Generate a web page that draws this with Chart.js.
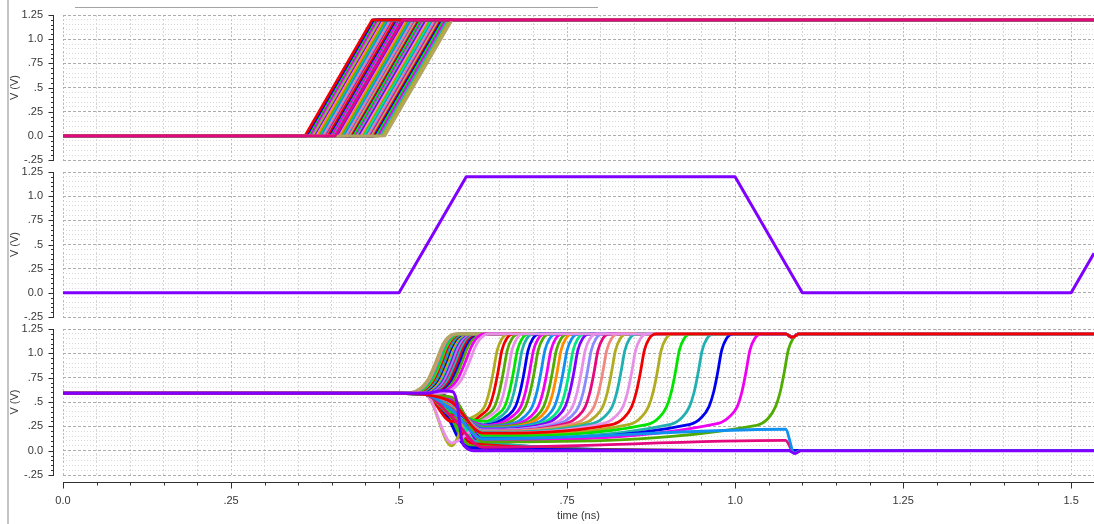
<!DOCTYPE html>
<html>
<head>
<meta charset="utf-8">
<script src="https://cdn.jsdelivr.net/npm/chart.js@4.4.1/dist/chart.umd.min.js"></script>
<style>
  body { margin: 0; background: #fff; }
  #page { position: relative; width: 1094px; height: 524px; overflow: hidden; background: #fff; }
  canvas { position: absolute; left: 0; }
  .frameL { position: absolute; left: 7px; top: 0; width: 2px; height: 524px; background: #c4c4c4; }
  .frameT { position: absolute; left: 75px; top: 7px; width: 523px; height: 1px; background: #a4a4a4; }
</style>
</head>
<body>
<div id="page">
  <canvas id="top" width="1094" height="167" style="top:0"></canvas>
  <canvas id="clk" width="1094" height="161" style="top:163px"></canvas>
  <canvas id="out" width="1094" height="204" style="top:320px"></canvas>
  <div class="frameL"></div>
  <div class="frameT"></div>
</div>
<script>
/* globals Chart */

// ---- axes
const T_MAX = 1.534;
const xTickValues = [0, 0.25, 0.5, 0.75, 1.0, 1.25, 1.5];
const xTickLabels = ['0.0', '.25', '.5', '.75', '1.0', '1.25', '1.5'];
const yTickValues = [-0.25, 0, 0.25, 0.5, 0.75, 1.0, 1.25];
const yTickLabels = ['-.25', '0.0', '.25', '.5', '.75', '1.0', '1.25'];

// ---- panel 1 : input ramps (0 -> 1.2 V in 0.1 ns), start times in ns
const V_HI = 1.2;
const RAMP = 0.1;
const rampStarts = [0.405, 0.479, 0.360, 0.362, 0.364, 0.367, 0.368, 0.371, 0.373, 0.374,
	0.377, 0.379, 0.380, 0.383, 0.385, 0.387, 0.389, 0.390, 0.393, 0.395, 0.396, 0.399,
	0.401, 0.403, 0.407, 0.408, 0.411, 0.413, 0.414, 0.417, 0.419, 0.421, 0.422, 0.425,
	0.427, 0.428, 0.431, 0.433, 0.435, 0.436, 0.439, 0.441, 0.443, 0.444, 0.447, 0.449,
	0.451, 0.453, 0.455, 0.458, 0.460, 0.462, 0.465, 0.468, 0.471, 0.475];

// ---- panel 2 : clock
const clkT = [0, 0.5, 0.6, 1.0, 1.1, 1.5, 1.534];
const clkV = [0, 0, 1.2, 1.2, 0, 0, 0.41];

// ---- panel 3 : outputs
const V_PRE = 0.59;
const NOTCH_T = [1.075, 1.085, 1.095];
const NOTCH_V = 1.165;

// output pulled straight to ground
const gndT = [0, 0.54, 0.566, 0.58, 0.587, 0.593, 0.6, 0.612, 1.08, 1.089, 1.098, T_MAX];
const gndV = [0.59, 0.59, 0.615, 0.605, 0.46, 0.12, 0.03, 0.0, 0.0, -0.03, 0.0, 0.0];

// fast resolving up: time of 0.9 V crossing
const earlyT = [0.604, 0.598, 0.554, 0.556, 0.558, 0.560, 0.561, 0.563, 0.565, 0.567,
	0.569, 0.571, 0.573, 0.575, 0.578, 0.580, 0.583, 0.586, 0.589, 0.593];
const EARLY_DT = [-0.05, -0.03, -0.012, 0, 0.009, 0.018, 0.03];
const EARLY_V = [0.59, 0.61, 0.72, 0.9, 1.06, 1.16, 1.2];

// slow resolving up: 0.6 V crossing, value at 0.578 ns, floor at 0.625 ns, floor before the edge
const lateT = [0.853, 1.067, 1.010, 0.968, 0.939, 0.905, 0.878, 0.840, 0.824, 0.810,
	0.797, 0.784, 0.774, 0.765, 0.754, 0.747, 0.738, 0.729, 0.722, 0.714,
	0.705, 0.695, 0.688, 0.680, 0.671, 0.664, 0.656, 0.649, 0.641, 0.634];
const lateDip = [0.50, 0.55, 0.54, 0.54, 0.53, 0.53, 0.52, 0.52, 0.51, 0.51,
	0.50, 0.50, 0.50, 0.49, 0.49, 0.48, 0.48, 0.47, 0.47, 0.46,
	0.46, 0.45, 0.44, 0.43, 0.42, 0.40, 0.08, 0.35, 0.30, 0.05];
const lateF0 = [0.18, 0.09, 0.11, 0.12, 0.13, 0.15, 0.16, 0.18, 0.19, 0.19,
	0.20, 0.20, 0.21, 0.21, 0.22, 0.22, 0.23, 0.23, 0.24, 0.24,
	0.25, 0.25, 0.26, 0.26, 0.27, 0.28, 0.27, 0.30, 0.30, 0.30];
const lateF1 = [0.27, 0.26, 0.28, 0.27, 0.27, 0.27, 0.27, 0.28, 0.28, 0.28,
	0.28, 0.28, 0.28, 0.28, 0.28, 0.28, 0.28, 0.28, 0.28, 0.28,
	0.28, 0.28, 0.29, 0.29, 0.29, 0.30, 0.30, 0.30, 0.30, 0.30];
const RISE_DT = [-0.007, 0, 0.006, 0.012, 0.019, 0.03];
const RISE_V = [0.45, 0.6, 0.8, 1.03, 1.15, 1.2];

// never resolving: floor at 0.625 ns and at 1.075 ns
const lowDip = [0.42, 0.35];
const lowF0 = [0.12, 0.035];
const lowF1 = [0.22, 0.105];

// resolving down: 0.3 V crossing, level after the fall, level at 0.95 ns
const fallT = [0.576, 0.579, 0.582, 0.585, 0.588, 0.591, 0.595, 0.6];
const fallLevel = [0.03, 0.05, 0.02, 0.07, 0.04, 0.09, 0.06, 0.08];
const fallLate = [0.002, 0.004, 0.002, 0.004, 0.003, 0.004, 0.003, 0.004];

// ---- colours
const RED = '#f00000', BLUE = '#0000f0', LIME = '#00e400', MAGENTA = '#f000f0',
	TEAL = '#20b0b0', OLIVE = '#b0ac20', VIOLET = '#8000ff', PINK = '#e890e8',
	ORANGE = '#ff8a00', GREEN = '#50ac00', SPRING = '#00e880', DODGER = '#1090f0',
	SALMON = '#f08a80', LAVENDER = '#8a8aff', DEEPPINK = '#e4087e', KHAKI = '#b4a462',
	PURPLE = '#8000ff';
const PALETTE = [RED, BLUE, LIME, MAGENTA, TEAL, OLIVE, VIOLET, PINK, ORANGE, GREEN,
	SPRING, DODGER, SALMON, LAVENDER, DEEPPINK, KHAKI];
const rampColors = [DEEPPINK, KHAKI].concat(rampStarts.slice(2).map((_, i) => PALETTE[i % PALETTE.length]));
const earlyColors = [PINK, MAGENTA, KHAKI, SALMON, TEAL, LIME, OLIVE, RED, DODGER, GREEN,
	BLUE, ORANGE, SPRING, VIOLET, LAVENDER, DEEPPINK, TEAL, RED, BLUE, GREEN];
const lateColors = [RED, GREEN, MAGENTA, BLUE, TEAL, LIME, OLIVE, PINK, TEAL, OLIVE,
	SALMON, DEEPPINK, LAVENDER, PINK, VIOLET, SPRING, DODGER, ORANGE, GREEN, MAGENTA,
	DODGER, GREEN, MAGENTA, BLUE, TEAL, LIME, PINK, GREEN, RED, OLIVE];
const lowColors = [DODGER, DEEPPINK];
const fallColors = [BLUE, GREEN, LIME, RED, MAGENTA, TEAL, SPRING, VIOLET];

const TXT = '#383838';
const FONT = { family: 'Liberation Sans', size: 11 };
const LW = 2.8;

function isMajor(v) {
	const k = v / 0.25;
	return Math.abs(k - Math.round(k)) < 1e-6;
}

function tickLabel(v, values, labels) {
	for (let i = 0; i < values.length; i++) {
		if (Math.abs(v - values[i]) < 1e-6) return labels[i];
	}
	return '';
}

function line(points, color, width, smooth) {
	return {
		data: points.map(p => ({ x: p[0], y: p[1] })),
		borderColor: color,
		borderWidth: width || LW,
		pointRadius: 0,
		fill: false,
		tension: 0,
		cubicInterpolationMode: smooth ? 'monotone' : 'default',
		borderJoinStyle: 'round'
	};
}

function withNotch(pts, tEnd) {
	if (tEnd < NOTCH_T[0] - 0.002) {
		pts.push([NOTCH_T[0], V_HI], [NOTCH_T[1], NOTCH_V], [NOTCH_T[2], V_HI]);
	}
	pts.push([T_MAX, V_HI]);
	return pts;
}

function earlyTrace(tm) {
	let pts = [[0, V_PRE], [0.5, V_PRE]];
	EARLY_DT.forEach((d, k) => pts.push([tm + d, EARLY_V[k]]));
	return withNotch(pts, tm + EARLY_DT[EARLY_DT.length - 1]);
}

function lateTrace(i) {
	let tr = lateT[i];
	let start = tr - 0.035;
	let pts = [[0, V_PRE], [0.5, V_PRE], [0.54, 0.575], [0.578, lateDip[i]], [0.625, lateF0[i]]]
		.filter(p => p[0] < start - 0.004);
	pts.push([start, lateF1[i]], [tr - 0.018, lateF1[i] + 0.07]);
	RISE_DT.forEach((d, k) => pts.push([tr + d, RISE_V[k]]));
	return withNotch(pts, tr + RISE_DT[RISE_DT.length - 1]);
}

function lowTrace(i) {
	return [[0, V_PRE], [0.5, V_PRE], [0.54, 0.575], [0.578, lowDip[i]], [0.625, lowF0[i]],
		[1.075, lowF1[i]], [1.088, -0.025], [1.097, 0], [T_MAX, 0]];
}

function fallTrace(i) {
	let td = fallT[i];
	return [[0, V_PRE], [0.5, V_PRE], [td - 0.035, 0.575], [td - 0.015, 0.45], [td, 0.3],
		[td + 0.012, 0.13], [td + 0.03, fallLevel[i]], [0.95, fallLate[i]], [T_MAX, fallLate[i]]];
}

// axis line and tick marks sit a few pixels away from the plot area
const axisMarks = {
	id: 'axisMarks',
	afterDraw(chart, args, opts) {
		const { ctx, chartArea: area, scales: { x, y } } = chart;
		ctx.save();
		ctx.strokeStyle = '#303030';
		ctx.lineWidth = 1;
		ctx.beginPath();
		const ax = area.left - 9.5;
		ctx.moveTo(ax, area.top);
		ctx.lineTo(ax, area.bottom + 1);
		y.ticks.forEach(t => {
			const py = Math.round(y.getPixelForValue(t.value)) + 0.5;
			ctx.moveTo(ax - (isMajor(t.value) ? 5 : 2.5), py);
			ctx.lineTo(ax, py);
		});
		if (opts.xAxis) {
			const ay = area.bottom + 7.5;
			ctx.moveTo(area.left, ay);
			ctx.lineTo(area.right, ay);
			x.ticks.forEach(t => {
				const px = Math.round(x.getPixelForValue(t.value)) + 0.5;
				ctx.moveTo(px, ay);
				ctx.lineTo(px, ay + (isMajor(t.value) ? 6 : 3));
			});
		}
		ctx.stroke();
		ctx.restore();
	}
};
Chart.register(axisMarks);

function gridColor(c, major, minor) {
	return (c.tick && isMajor(c.tick.value)) ? major : minor;
}

function panelOptions(pad, showX) {
	return {
		responsive: false,
		animation: false,
		devicePixelRatio: 1,
		events: [],
		layout: { padding: pad, autoPadding: false },
		plugins: { legend: { display: false }, tooltip: { enabled: false }, axisMarks: { xAxis: showX } },
		scales: {
			x: {
				type: 'linear',
				min: 0,
				max: T_MAX,
				afterFit: s => { s.height = showX ? 49 : 0; s.paddingLeft = 0; s.paddingRight = 0; },
				ticks: {
					display: showX, stepSize: 0.05, autoSkip: false, maxRotation: 0, minRotation: 0,
					includeBounds: false, padding: 19, color: TXT, font: FONT,
					callback: v => tickLabel(v, xTickValues, xTickLabels)
				},
				grid: { drawTicks: false, color: c => gridColor(c, '#bcbcbc', '#d6d6d6') },
				border: { display: false, dash: [2, 2] },
				title: { display: showX, text: 'time (ns)', color: TXT, font: FONT, padding: { top: 0, bottom: 1 } }
			},
			y: {
				type: 'linear',
				min: -0.25,
				max: 1.25,
				afterFit: s => { s.width = 63; s.paddingTop = 0; s.paddingBottom = 0; },
				ticks: {
					stepSize: 0.05, autoSkip: false, padding: 20, color: TXT, font: FONT,
					callback: v => tickLabel(v, yTickValues, yTickLabels)
				},
				grid: { drawTicks: false, color: c => gridColor(c, '#acacac', '#d8d8d8') },
				border: { display: false, dash: c => (c.tick && isMajor(c.tick.value)) ? [3, 2] : [1, 2] },
				title: { display: true, text: 'V (V)', color: TXT, font: FONT, padding: { top: 8, bottom: 0 } }
			}
		}
	};
}

// panel 1
const topSets = rampStarts.map((t0, i) =>
	line([[0, 0], [t0, 0], [t0 + RAMP, V_HI], [T_MAX, V_HI]], rampColors[i]));

new Chart(document.getElementById('top'), {
	type: 'line',
	data: { datasets: topSets },
	options: panelOptions({ top: 15, bottom: 7, left: 0, right: 0 }, false)
});

// panel 2
new Chart(document.getElementById('clk'), {
	type: 'line',
	data: { datasets: [line(clkT.map((t, i) => [t, clkV[i]]), PURPLE, 3)] },
	options: panelOptions({ top: 9, bottom: 7, left: 0, right: 0 }, false)
});

// panel 3 (first dataset is drawn on top)
const outSets = [];
outSets.push(line(gndT.map((t, i) => [t, gndV[i]]), PURPLE, 3, true));
outSets.push(line(lateTrace(0), lateColors[0], LW, true));
outSets.push(line(earlyTrace(earlyT[0]), earlyColors[0], LW, true));
lowF0.forEach((_, i) => outSets.push(line(lowTrace(i), lowColors[i], LW, true)));
for (let i = 1; i < lateT.length; i++) outSets.push(line(lateTrace(i), lateColors[i], LW, true));
for (let i = 1; i < earlyT.length; i++) outSets.push(line(earlyTrace(earlyT[i]), earlyColors[i], LW, true));
fallT.forEach((_, i) => outSets.push(line(fallTrace(i), fallColors[i], LW, true)));

new Chart(document.getElementById('out'), {
	type: 'line',
	data: { datasets: outSets },
	options: panelOptions({ top: 9, bottom: 0, left: 0, right: 0 }, true)
});
</script>
</body>
</html>
